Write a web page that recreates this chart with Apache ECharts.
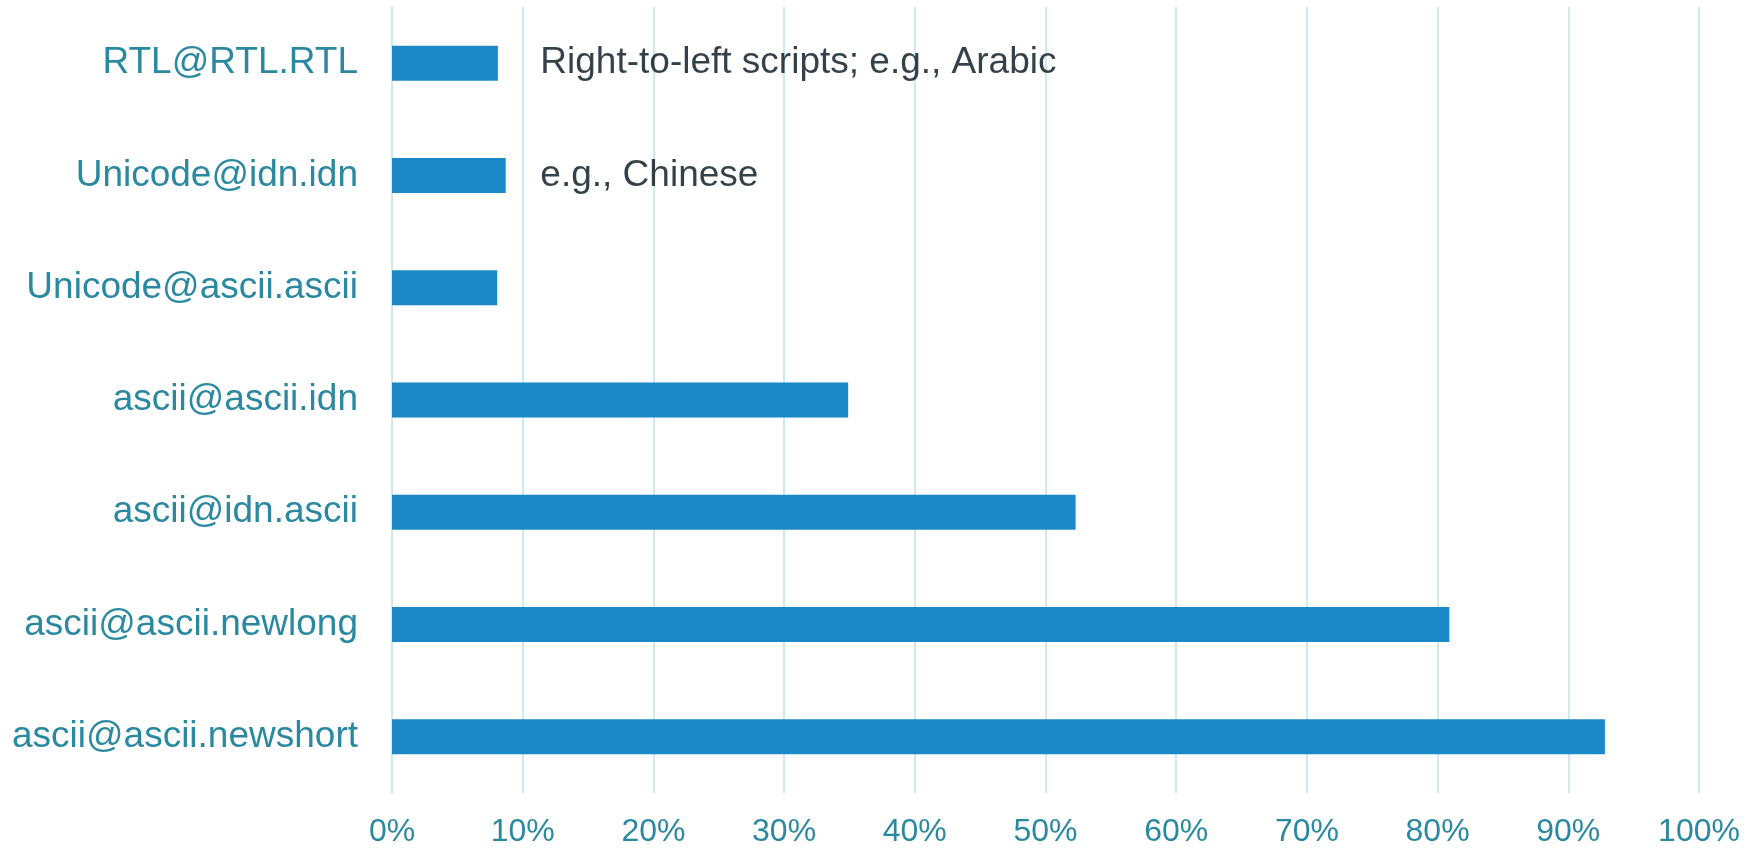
<!DOCTYPE html>
<html>
<head>
<meta charset="utf-8">
<script src="https://cdn.jsdelivr.net/npm/echarts@6/dist/echarts.min.js"></script>
<style>
html,body{margin:0;padding:0;background:#fff;}
#chart{width:1756px;height:848px;}
</style>
</head>
<body>
<div id="chart"></div>
<script>
const categories = ["RTL@RTL.RTL","Unicode@idn.idn","Unicode@ascii.ascii","ascii@ascii.idn","ascii@idn.ascii","ascii@ascii.newlong","ascii@ascii.newshort"];
const values = [8.1, 8.7, 8.05, 34.9, 52.3, 80.9, 92.8];
const annotations = ["Right-to-left scripts; e.g., Arabic", "e.g., Chinese", "", "", "", "", ""];
const xTicks = [0,10,20,30,40,50,60,70,80,90,100];

const annotX = 11.35;
const chart = echarts.init(document.getElementById('chart'), null, {renderer:'canvas'});
const font = 'Liberation Sans, Arial, sans-serif';
chart.setOption({
  animation:false,
  grid:{left:392,right:57,top:7,bottom:55,containLabel:false},
  xAxis:{
    type:'value', min:xTicks[0], max:xTicks[xTicks.length-1], interval:10,
    axisLine:{show:false}, axisTick:{show:false},
    splitLine:{show:true,lineStyle:{color:'#cfe8f1',width:2}},
    axisLabel:{formatter:v=>v+'%', color:'#2a89a0', fontSize:32, fontFamily:font, margin:23}
  },
  yAxis:{
    type:'category', data:categories, inverse:true,
    axisLine:{show:true,lineStyle:{color:'#cfe8f1',width:2}}, axisTick:{show:false},
    axisLabel:{color:'#2a89a0', fontSize:37, fontFamily:font, margin:34}
  },
  series:[{
    type:'bar', data:values, barWidth:35,
    itemStyle:{color:'#1b88c8'},
    silent:true
  },{
    type:'scatter', symbolSize:0,
    data:annotations.map((t,i)=>[annotX, categories[i], t]).filter(d=>d[2]),
    label:{show:true, position:'right', distance:0, formatter:p=>p.data[2], color:'#03121a', fontSize:37, fontFamily:font},
    silent:true
  }]
});
</script>
</body>
</html>
